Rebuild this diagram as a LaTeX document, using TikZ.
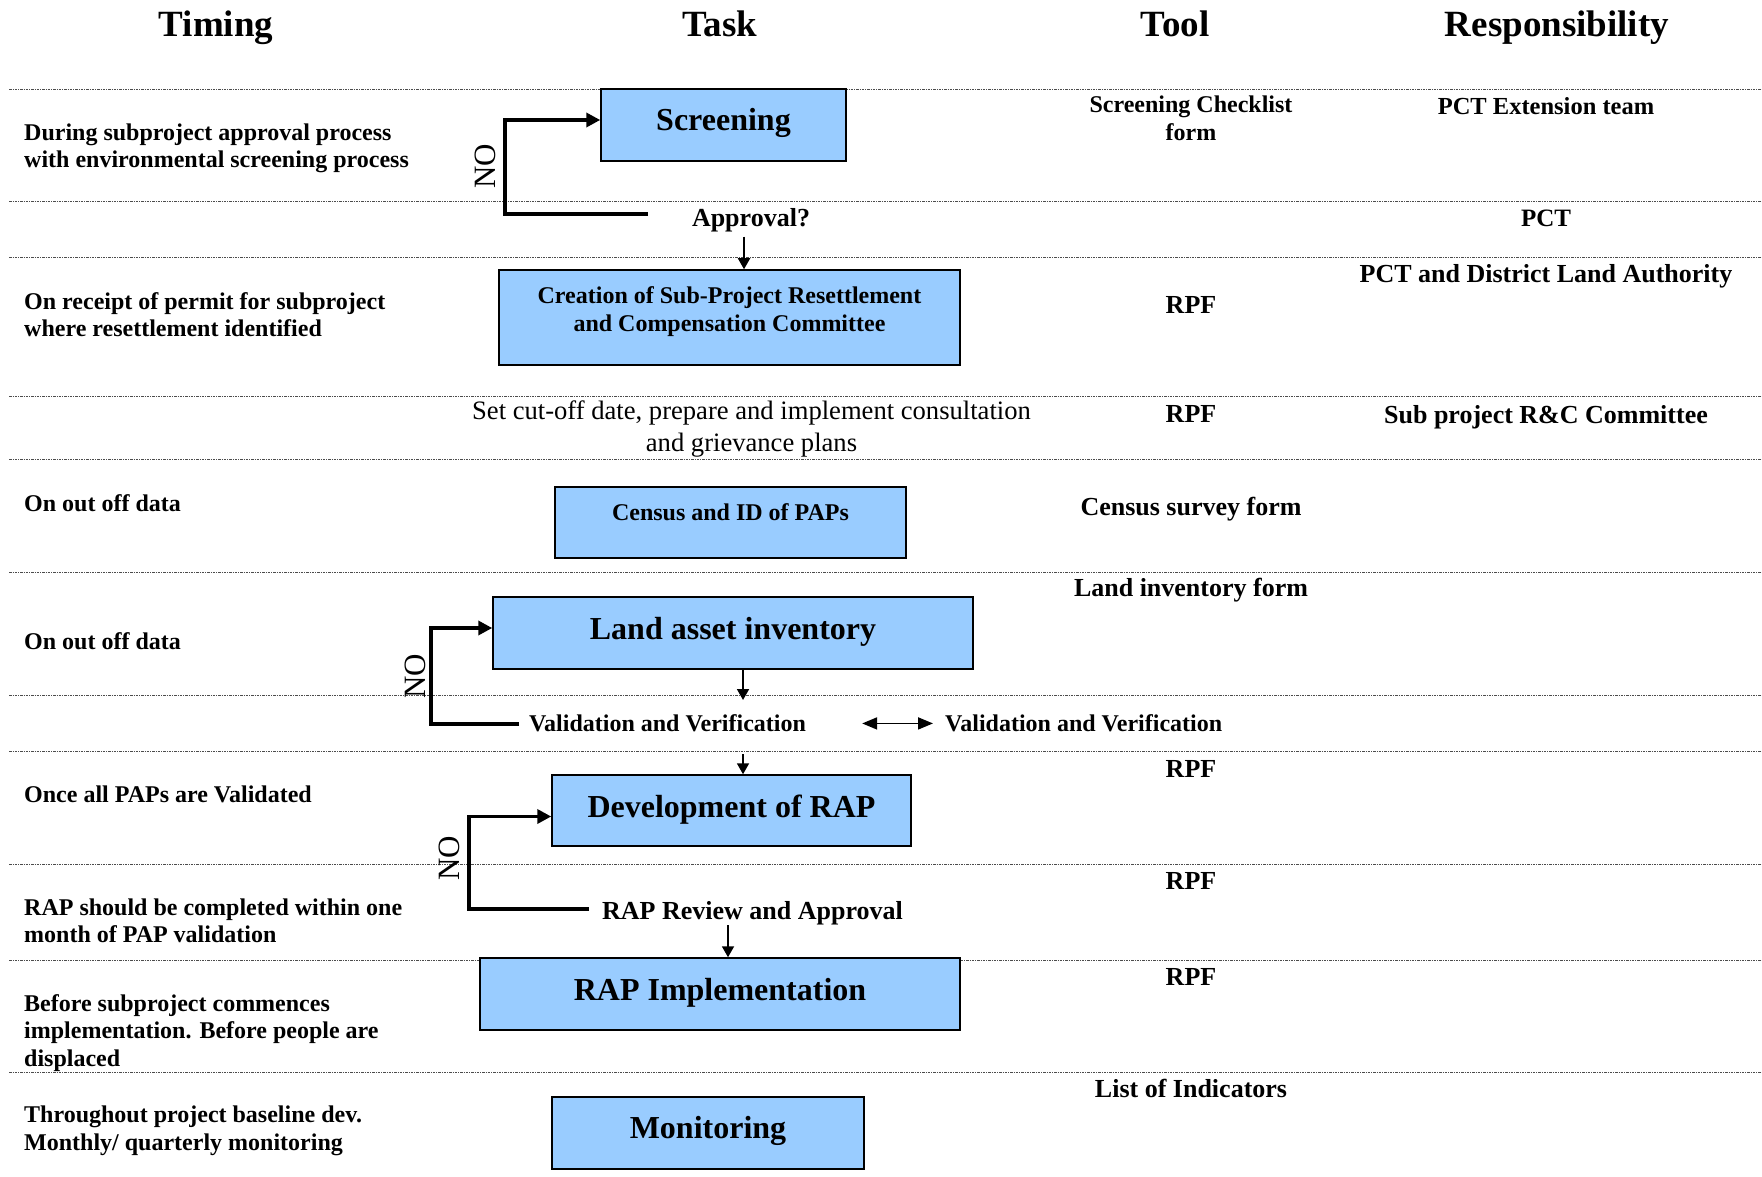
\documentclass[tikz,border=0pt]{standalone}
\usepackage{fontspec}
\setmainfont{Liberation Serif}
\usetikzlibrary{arrows.meta}
\definecolor{boxblue}{HTML}{99CCFF}
\newcommand\hdrf{\fontsize{37}{42}\selectfont\bfseries}
\newcommand\txtf{\fontsize{24}{27.5}\selectfont\bfseries}
\newcommand\midf{\fontsize{26}{30}\selectfont\bfseries}
\newcommand\boxf{\fontsize{32}{36}\selectfont\bfseries}
\newcommand\crf{\fontsize{24}{28}\selectfont\bfseries}
\newcommand\regf{\fontsize{26.6}{31.5}\selectfont}
\newcommand\nof{\fontsize{31}{34}\selectfont}
\begin{document}
\begin{tikzpicture}[x=1pt,y=-1pt,
  sep/.style={draw=black!70,line width=0.9pt,dash pattern=on 2.5pt off 1pt on 1pt off 1pt},
  hdr/.style={font=\hdrf,anchor=base,inner sep=0pt},
  tim/.style={font=\txtf,anchor=base west,align=left,inner sep=0pt},
  toolc/.style={font=\midf,anchor=base,align=center,inner sep=0pt},
  resp/.style={font=\midf,anchor=base,inner sep=0pt},
  midtxt/.style={font=\midf,anchor=base,inner sep=0pt},
  reg/.style={font=\regf,anchor=base,align=center,inner sep=0pt},
  box/.style={draw=black,fill=boxblue,line width=1.5pt,inner sep=0pt,font=\boxf,text height=22.4pt},
  nolab/.style={font=\nof,rotate=90,inner sep=0pt},
  arr/.style={line width=1.8pt,-{Triangle[length=11pt,width=12pt]}},
  dblarr/.style={line width=1.8pt,{Triangle[length=15pt,width=12pt]}-{Triangle[length=15pt,width=12pt]}},
  loopln/.style={line width=3.5pt,-{Triangle[length=14pt,width=14pt]}}
]
\useasboundingbox (0,0) rectangle (1762,1177);
\fill[white] (0,0) rectangle (1762,1177);

% separators
\foreach \yy in {89,201.5,257.5,396.7,459.5,572,695.6,751.8,864.1,960.8,1072}
  \draw[sep] (9,\yy) -- (1762,\yy);

% headers
\node[hdr] (hTiming) at (216,37) {Timing};
\node[hdr] (hTask) at (720,37) {Task};
\node[hdr] (hTool) at (1175,37) {Tool};
\node[hdr] (hResp) at (1557,37) {Responsibility};

% timing column (base anchor = last line baseline)
\node[tim] (t1) at (24,168) {During subproject approval process\\with environmental screening process};
\node[tim] (t2) at (24,336.5) {On receipt of permit for subproject\\where resettlement identified};
\node[tim] (t3) at (24,511.5) {On out off data};
\node[tim] (t4) at (24,649.7) {On out off data};
\node[tim] (t5) at (24,802.6) {Once all PAPs are Validated};
\node[tim] (t6) at (24,942.5) {RAP should be completed within one\\month of PAP validation};
\node[tim] (t7) at (24,1066) {Before subproject commences\\implementation. Before people are\\displaced};
\node[tim] (t8) at (24,1150.3) {Throughout project baseline dev.\\Monthly/ quarterly monitoring};

% task boxes
\node[box,minimum width=245pt,minimum height=72pt,text depth=10.8pt] (screen) at (723.5,125) {Screening};
\node[box,minimum width=461pt,minimum height=95pt,font=\crf,text height=,align=center] (creation) at (729.5,317.5)
  {Creation of Sub-Project Resettlement\\and Compensation Committee\rule[-16pt]{0pt}{1pt}};
\node[box,minimum width=351pt,minimum height=71pt,font=\txtf,text height=16.8pt,text depth=20.6pt] (census) at (730.5,522.5) {Census and ID of PAPs};
\node[box,minimum width=480pt,minimum height=72pt,text depth=8.8pt] (land) at (733,633) {Land asset inventory};
\node[box,minimum width=359pt,minimum height=71pt,text depth=8.2pt] (dev) at (731.5,810.5) {Development of RAP};
\node[box,minimum width=480pt,minimum height=72pt,text depth=8.8pt] (impl) at (720,994) {RAP Implementation};
\node[box,minimum width=312pt,minimum height=72pt,text depth=10.8pt] (mon) at (708,1133) {Monitoring};

% task texts
\node[midtxt] (appr) at (751,227) {Approval?};
\node[reg] (setcut) at (751.5,451) {Set cut-off date, prepare and implement consultation\\and grievance plans};
\node[tim,anchor=base] (valtask) at (667.5,731.7) {Validation and Verification};
\node[midtxt] (review) at (752.5,919) {RAP Review and Approval};

% tool column
\node[toolc,font=\crf] (tool1) at (1191,140.5) {Screening Checklist\\form};
\node[toolc] (rpf1) at (1191,313.3) {RPF};
\node[toolc] (rpf2) at (1191,422.3) {RPF};
\node[toolc] (tool3) at (1191,515.6) {Census survey form};
\node[toolc] (tool4) at (1191,596.5) {Land inventory form};
\node[tim] (valtool) at (945,731.7) {Validation and Verification};
\node[toolc] (rpf3) at (1191,777.4) {RPF};
\node[toolc] (rpf4) at (1191,889.8) {RPF};
\node[toolc] (rpf5) at (1191,985.3) {RPF};
\node[toolc] (tool5) at (1191,1097.7) {List of Indicators};

% responsibility column
\node[resp,font=\fontsize{24.5}{28}\selectfont\bfseries] (r1) at (1546,115) {PCT Extension team};
\node[resp,font=\fontsize{25}{28}\selectfont\bfseries] (r2) at (1546,226.5) {PCT};
\node[resp] (r3) at (1546,282.8) {PCT and District Land Authority};
\node[resp] (r4) at (1546,423.4) {Sub project R\&C Committee};

% NO labels
\node[nolab] (no1) at (485,166) {NO};
\node[nolab] (no2) at (415.5,676.5) {NO};
\node[nolab] (no3) at (449.5,858) {NO};

% connectors
\draw[arr] ([xshift=-7pt,yshift=-4pt]appr.south) -- ([xshift=-7pt]appr.south |- creation.north);
\coordinate (v1) at (743,700);
\draw[arr] (land.south -| v1) -- (v1);
\coordinate (v2) at (743,754);
\draw[arr] (v2) -- (v2 |- dev.north);
\coordinate (v3) at (728,925);
\draw[arr] (v3) -- (v3 |- impl.north);
\draw[dblarr] ([xshift=56pt]valtask.east) -- ([xshift=-12pt]valtool.west);

\coordinate (l1) at (648,214);
\draw[loopln] (l1) -- ++(-143,0) |- ([yshift=5pt]screen.west);
\coordinate (l2) at (519,724);
\draw[loopln] (l2) -- ++(-88,0) |- ([yshift=5pt]land.west);
\coordinate (l3) at (589,909);
\draw[loopln] (l3) -- ++(-120,0) |- ([yshift=-6pt]dev.west);
\end{tikzpicture}
\end{document}
